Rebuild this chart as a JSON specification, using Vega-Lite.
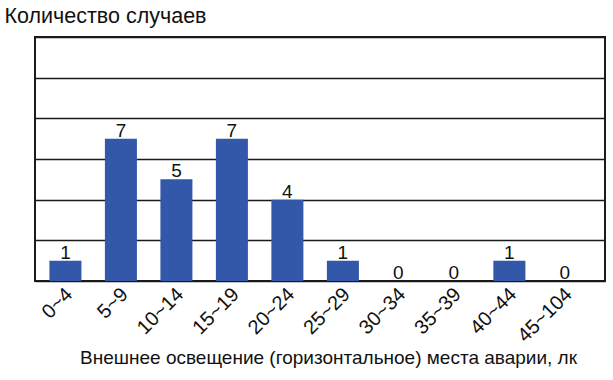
{
  "$schema": "https://vega.github.io/schema/vega-lite/v6.json",
  "width": 570,
  "height": 244,
  "autosize": {"type": "none"},
  "padding": {"left": 35, "top": 37, "right": 8, "bottom": 99},
  "background": "white",
  "config": {
    "font": "Liberation Sans",
    "view": {"stroke": "#1a1a1a", "strokeWidth": 2}
  },
  "data": {
    "values": [
      {"range": "0~4", "count": 1},
      {"range": "5~9", "count": 7},
      {"range": "10~14", "count": 5},
      {"range": "15~19", "count": 7},
      {"range": "20~24", "count": 4},
      {"range": "25~29", "count": 1},
      {"range": "30~34", "count": 0},
      {"range": "35~39", "count": 0},
      {"range": "40~44", "count": 1},
      {"range": "45~104", "count": 0}
    ]
  },
  "encoding": {
    "x": {
      "field": "range",
      "type": "nominal",
      "sort": null,
      "scale": {"paddingInner": 0.423, "paddingOuter": 0.347, "align": 0.374},
      "axis": {
        "title": "Внешнее освещение (горизонтальное) места аварии, лк",
        "titleFont": "Liberation Sans",
        "titleFontSize": 19,
        "titleFontWeight": "normal",
        "titleColor": "#111",
        "titleX": 293,
        "titleY": 82,
        "titleAlign": "center",
        "titleBaseline": "alphabetic",
        "labelAngle": -45,
        "labelAlign": "right",
        "labelBaseline": "middle",
        "labelFontSize": 20,
        "labelColor": "#111",
        "labelPadding": 10,
        "labelOffset": 4,
        "ticks": false,
        "domain": false,
        "grid": false
      }
    },
    "y": {
      "field": "count",
      "type": "quantitative",
      "scale": {"domain": [0, 12], "nice": false},
      "axis": {
        "title": "Количество случаев",
        "titleFont": "Liberation Sans",
        "titleFontSize": 21.5,
        "titleFontWeight": "normal",
        "titleColor": "#111",
        "titleAngle": 0,
        "titleAlign": "left",
        "titleBaseline": "alphabetic",
        "titleX": -31,
        "titleY": -15,
        "values": [0, 2, 4, 6, 8, 10, 12],
        "labels": false,
        "ticks": false,
        "domain": false,
        "grid": true,
        "gridColor": "#1a1a1a",
        "gridWidth": 1.5,
        "gridOpacity": 1
      }
    }
  },
  "layer": [
    {"mark": {"type": "bar", "color": "#3358a9"}},
    {
      "mark": {"type": "text", "baseline": "alphabetic", "dy": -2, "fontSize": 19, "color": "#111"},
      "encoding": {"text": {"field": "count", "type": "quantitative"}}
    }
  ]
}
